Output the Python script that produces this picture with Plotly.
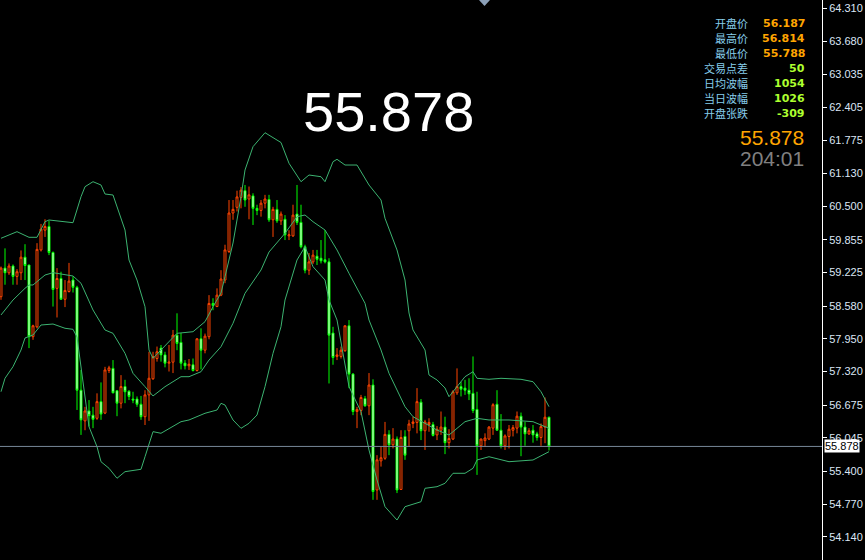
import plotly.graph_objects as go

# ---------------- data ----------------
opens = [58.76, 59.31, 59.22, 59.35, 59.15, 59.22, 59.52, 59.37, 57.99, 58.18,
         59.66, 60.04, 60.11, 59.61, 58.92, 59.11, 58.71, 58.86, 59.08, 58.94,
         56.96, 56.37, 56.56, 56.48, 56.42, 56.74, 56.52, 57.34, 57.38, 56.95,
         56.71, 57.03, 56.94, 56.79, 56.79, 56.69, 56.45, 56.87, 57.18, 57.57,
         57.77, 57.64, 57.48, 57.50, 58.02, 57.88, 57.48, 57.43, 57.45, 57.34,
         57.95, 57.73, 57.99, 58.63, 58.57, 58.79, 59.08, 59.63, 60.37, 60.48,
         60.67, 60.80, 60.64, 60.70, 60.46, 60.42, 60.56, 60.63, 60.24, 60.44,
         60.22, 60.25, 59.93, 59.93, 60.35, 60.19, 59.72, 59.27, 59.43, 59.54,
         59.50, 59.47, 59.43, 58.06, 57.61, 57.61, 57.72, 58.20, 57.27, 56.55,
         56.57, 56.80, 56.66, 57.06, 55.04, 55.60, 55.65, 56.11, 55.91, 56.02,
         55.05, 56.07, 56.18, 56.32, 56.34, 56.73, 56.18, 56.30, 56.30, 56.10,
         56.19, 56.25, 55.95, 56.02, 56.91, 57.03, 57.00, 56.96, 56.90, 56.59,
         55.89, 55.99, 56.02, 56.23, 56.69, 56.19, 55.89, 56.07, 56.19, 56.23,
         56.46, 56.25, 56.12, 56.19, 56.12, 56.05, 56.25, 56.44]
highs = [59.34, 59.69, 59.40, 59.38, 59.29, 59.65, 59.77, 59.37, 58.22, 59.79,
         60.16, 60.25, 60.22, 59.63, 59.31, 59.24, 59.08, 59.41, 59.15, 58.97,
         57.35, 56.64, 56.77, 56.64, 56.90, 57.11, 57.41, 57.43, 57.54, 56.96,
         57.25, 57.16, 56.96, 56.93, 56.84, 56.85, 56.96, 57.70, 57.70, 57.80,
         57.83, 57.70, 57.83, 58.12, 58.44, 58.06, 57.54, 57.56, 57.57, 57.96,
         58.15, 58.05, 58.79, 58.73, 58.92, 59.27, 59.76, 60.62, 60.62, 60.80,
         60.87, 60.91, 60.88, 60.75, 60.53, 60.62, 60.72, 60.72, 60.49, 60.62,
         60.40, 60.33, 60.04, 60.53, 60.91, 60.53, 59.76, 59.60, 59.66, 59.66,
         59.85, 60.04, 59.50, 58.18, 57.77, 57.80, 58.20, 58.31, 57.29, 56.64,
         56.87, 56.85, 57.29, 57.17, 55.71, 55.87, 56.35, 56.19, 56.23, 56.07,
         56.19, 56.19, 56.39, 56.45, 57.00, 56.79, 56.39, 56.42, 56.35, 56.27,
         56.55, 56.45, 56.21, 56.96, 57.38, 57.12, 57.16, 57.19, 57.61, 56.93,
         56.03, 56.13, 56.27, 56.71, 56.96, 56.50, 56.11, 56.29, 56.29, 56.55,
         56.53, 56.35, 56.23, 56.29, 56.16, 56.32, 56.82, 56.45]
lows = [58.70, 58.99, 59.18, 58.99, 58.99, 59.08, 59.08, 57.77, 57.93, 58.15,
        59.63, 59.91, 59.56, 58.57, 58.36, 58.70, 58.56, 58.84, 58.84, 56.58,
        56.10, 56.19, 56.26, 56.23, 56.39, 56.39, 56.50, 57.29, 56.90, 56.46,
        56.61, 56.71, 56.77, 56.71, 56.64, 56.39, 56.29, 56.37, 57.16, 57.51,
        57.51, 57.40, 57.32, 57.29, 57.73, 57.36, 57.36, 57.35, 57.32, 57.32,
        57.36, 57.67, 57.94, 58.50, 58.56, 58.77, 59.02, 59.60, 60.24, 60.40,
        60.46, 60.49, 60.25, 60.14, 60.33, 60.30, 60.46, 60.20, 59.91, 60.18,
        60.14, 59.85, 59.85, 59.91, 60.14, 59.69, 59.21, 59.18, 59.39, 59.37,
        59.40, 59.40, 57.09, 57.45, 57.54, 57.57, 57.70, 57.00, 56.48, 56.23,
        56.48, 56.64, 56.48, 54.85, 54.85, 55.49, 55.62, 55.71, 55.84, 54.98,
        55.04, 55.62, 55.87, 56.23, 56.13, 56.00, 55.81, 56.16, 56.07, 56.00,
        56.10, 55.73, 55.84, 56.00, 56.87, 56.84, 56.87, 56.77, 56.52, 55.33,
        55.81, 55.87, 56.00, 56.10, 56.19, 55.84, 55.81, 55.84, 56.07, 56.13,
        55.69, 55.89, 56.10, 55.95, 55.99, 55.89, 55.94, 55.80]
closes = [59.31, 59.22, 59.35, 59.15, 59.24, 59.52, 59.36, 57.99, 58.20, 59.67,
          60.06, 60.11, 59.61, 58.90, 59.11, 58.71, 58.88, 59.06, 58.94, 56.96,
          56.39, 56.56, 56.47, 56.40, 56.74, 56.50, 57.35, 57.39, 56.91, 56.71,
          57.03, 56.93, 56.84, 56.77, 56.69, 56.45, 56.87, 57.19, 57.61, 57.70,
          57.64, 57.48, 57.50, 58.02, 57.86, 57.48, 57.43, 57.46, 57.34, 57.95,
          57.73, 58.00, 58.63, 58.59, 58.79, 59.10, 59.66, 60.37, 60.44, 60.68,
          60.81, 60.62, 60.72, 60.46, 60.42, 60.56, 60.64, 60.24, 60.44, 60.22,
          60.35, 59.95, 59.95, 60.33, 60.19, 59.72, 59.27, 59.43, 59.56, 59.48,
          59.45, 59.43, 58.02, 57.59, 57.64, 57.73, 58.20, 57.27, 56.55, 56.59,
          56.82, 56.66, 57.06, 55.01, 55.62, 55.66, 56.11, 55.91, 56.02, 55.04,
          56.05, 55.71, 56.31, 56.35, 56.74, 56.18, 56.35, 56.34, 56.09, 56.21,
          56.25, 55.95, 56.03, 56.93, 57.03, 56.98, 56.96, 56.89, 56.57, 55.89,
          56.02, 56.04, 56.25, 56.68, 56.19, 55.89, 56.08, 56.21, 56.24, 56.46,
          56.25, 56.12, 56.18, 56.10, 56.05, 56.26, 56.44, 55.878]
bar_index = list(range(len(closes)))

# Bollinger band lines (bar index, price)
upper_idx = [0, 4, 7, 9, 11, 12, 18, 20, 21, 23, 25, 26, 28, 29, 31, 32, 34, 36, 37, 38,
             40, 44, 48, 51, 53, 55, 56, 58, 60, 61, 63, 66, 70, 72, 75, 77, 80, 81, 83, 84,
             86, 89, 92, 95, 96, 99, 101, 102, 103, 106, 107, 109, 111, 112, 114, 116, 118, 119,
             122, 125, 130, 133, 135, 137]
upper_val = [59.884, 60.011, 59.903, 59.903, 60.203, 60.236, 60.184, 60.684, 60.877, 60.973,
             60.909, 60.736, 60.717, 60.492, 60.043, 59.466, 59.081, 58.567, 57.734, 57.574,
             57.734, 58.055, 58.086, 58.279, 58.567, 58.831, 59.145, 59.793, 60.684, 61.198,
             61.647, 61.916, 61.727, 61.327, 60.973, 61.102, 61.069, 60.973, 61.358, 61.404,
             61.294, 61.294, 60.909, 60.621, 60.269, 59.659, 59.081, 58.446, 58.119, 57.734,
             57.253, 57.157, 57.003, 56.835, 57.028, 57.220, 57.316, 57.189, 57.170, 57.189,
             57.170, 57.124, 56.931, 56.643]
mid_idx = [0, 3, 6, 7, 8, 11, 13, 16, 18, 20, 23, 26, 28, 31, 33, 36, 38, 41, 45, 47,
           50, 52, 55, 58, 61, 65, 67, 71, 74, 76, 78, 81, 84, 87, 91, 92, 95, 97, 101, 103,
           106, 109, 112, 114, 116, 119, 122, 127, 133, 137]
mid_val = [58.408, 58.696, 58.921, 58.985, 58.985, 59.177, 59.222, 59.177, 59.158, 59.018,
           58.504, 58.119, 58.055, 57.670, 57.285, 57.028, 56.849, 57.028, 57.220, 57.220,
           57.316, 57.541, 57.797, 58.248, 58.825, 59.274, 59.620, 59.980, 60.299, 60.332,
           60.203, 60.043, 59.659, 59.210, 58.633, 58.311, 57.734, 57.285, 56.643, 56.450,
           56.323, 56.194, 56.098, 56.227, 56.354, 56.419, 56.387, 56.387, 56.354, 56.227]
lower_idx = [0, 1, 3, 5, 6, 8, 10, 13, 16, 18, 19, 21, 22, 24, 25, 27, 29, 31, 35, 36,
             38, 40, 45, 47, 51, 54, 55, 56, 58, 60, 62, 64, 66, 68, 70, 71, 74, 76, 78, 81,
             82, 84, 87, 90, 92, 94, 96, 99, 101, 105, 106, 109, 111, 113, 116, 118, 119, 122,
             127, 133, 137]
lower_val = [56.931, 57.189, 57.413, 57.734, 57.965, 58.023, 58.215, 58.234, 58.152, 58.132,
             57.984, 56.835, 56.258, 55.873, 55.584, 55.457, 55.265, 55.392, 55.438, 55.680,
             56.162, 56.131, 56.354, 56.387, 56.516, 56.579, 56.708, 56.675, 56.387, 56.227,
             56.323, 56.483, 57.028, 57.670, 58.182, 58.696, 59.466, 59.722, 59.337, 59.081,
             58.696, 58.311, 57.028, 56.546, 55.809, 55.232, 54.718, 54.462, 54.718, 54.814,
             55.072, 55.103, 55.168, 55.361, 55.361, 55.457, 55.617, 55.680, 55.584, 55.617,
             55.777]

tick_vals = [64.310, 63.680, 63.035, 62.405, 61.775, 61.130, 60.500, 59.855, 59.225,
             58.580, 57.950, 57.320, 56.675, 56.045, 55.400, 54.770, 54.140]
tick_text = ["%.3f" % v for v in tick_vals]

last_price = 55.878
big_price_text = "55.878"
countdown_text = "204:01"
info_labels = ["开盘价", "最高价", "最低价", "交易点差", "日均波幅", "当日波幅", "开盘张跌"]
info_values = ["56.187", "56.814", "55.788", "50", "1054", "1026", "-309"]
info_colors = ["#FFA500", "#FFA500", "#FFA500", "#ADFF2F", "#ADFF2F", "#ADFF2F", "#ADFF2F"]

# ---------------- figure ----------------
W, H = 865, 560
PLOT_W = 822
fig = go.Figure()

band_color = "#3CB371"
for xs, ys in [(upper_idx, upper_val), (mid_idx, mid_val), (lower_idx, lower_val)]:
    fig.add_trace(go.Scatter(x=xs, y=ys, mode="lines",
                             line=dict(color=band_color, width=1),
                             hoverinfo="skip", showlegend=False))

fig.add_trace(go.Candlestick(
    x=bar_index, open=opens, high=highs, low=lows, close=closes,
    increasing=dict(line=dict(color="#FF4500", width=1), fillcolor="#000000"),
    decreasing=dict(line=dict(color="#00FF00", width=1), fillcolor="#FFFFFF"),
    showlegend=False, whiskerwidth=0))

# last-price horizontal line
fig.add_hline(y=last_price, line=dict(color="#778899", width=1))

ymax = 64.470
ymin = ymax - H * 0.019246
xmin = -0.25
xmax = xmin + PLOT_W / 4.0

fig.update_layout(
    width=W, height=H,
    margin=dict(l=0, r=W - PLOT_W, t=0, b=0, autoexpand=False),
    paper_bgcolor="#000000", plot_bgcolor="#000000",
    showlegend=False,
    xaxis=dict(range=[xmin, xmax], visible=False, rangeslider=dict(visible=False),
               showgrid=False, zeroline=False, fixedrange=True),
    yaxis=dict(range=[ymin, ymax], side="right", tickvals=tick_vals, ticktext=tick_text,
               showgrid=False, zeroline=False, showline=True, linecolor="#FFFFFF", linewidth=1,
               ticks="outside", ticklen=4, tickcolor="#FFFFFF", tickwidth=1,
               tickfont=dict(family="Liberation Sans", size=11, color="#DCE6F5"),
               automargin=False, mirror=False),
    font=dict(family="Liberation Sans"),
)

# price label box on axis
fig.add_annotation(xref="paper", yref="y", x=1.0, y=last_price, xanchor="left", yanchor="middle",
                   text=big_price_text, showarrow=False, bgcolor="#FFFFFF", borderpad=0,
                   xshift=2, font=dict(family="Liberation Sans", size=11, color="#000000"))

# big price in centre
fig.add_annotation(xref="paper", yref="paper", x=388 / PLOT_W, y=1 - 112 / H,
                   text=big_price_text, showarrow=False, xanchor="center", yanchor="middle",
                   font=dict(family="Liberation Sans", size=56, color="#FFFFFF"))

# info panel
row_y0, row_dy = 23.3, 15.0
for k, (lab, val, col) in enumerate(zip(info_labels, info_values, info_colors)):
    yy = 1 - (row_y0 + k * row_dy) / H
    fig.add_annotation(xref="paper", yref="paper", x=749 / PLOT_W, y=yy, text=lab,
                       showarrow=False, xanchor="right", yanchor="middle", borderpad=0,
                       font=dict(family="Noto Sans CJK SC", size=11, color="#87CEEB"))
    fig.add_annotation(xref="paper", yref="paper", x=806 / PLOT_W, y=yy, text="<b>%s</b>" % val,
                       showarrow=False, xanchor="right", yanchor="middle", borderpad=0,
                       font=dict(family="DejaVu Sans", size=11, color=col))

fig.add_annotation(xref="paper", yref="paper", x=806 / PLOT_W, y=1 - 137 / H, text=big_price_text,
                   showarrow=False, xanchor="right", yanchor="middle",
                   font=dict(family="Liberation Sans", size=21, color="#FFA500"))
fig.add_annotation(xref="paper", yref="paper", x=806 / PLOT_W, y=1 - 158 / H, text=countdown_text,
                   showarrow=False, xanchor="right", yanchor="middle",
                   font=dict(family="Liberation Sans", size=21, color="#808080"))

# small marker triangle at the top
tx0, tx1, txm, ty = 479 / PLOT_W, 490 / PLOT_W, 484.5 / PLOT_W, 1 - 6 / H
fig.add_shape(type="path", xref="paper", yref="paper",
              path="M %f,1 L %f,1 L %f,%f Z" % (tx0, tx1, txm, ty),
              fillcolor="#8CA0B8", line=dict(width=0))

fig.write_html("out.html", config={"displayModeBar": False, "staticPlot": True},
               post_script="document.body.style.margin='0';document.body.style.padding='0';"
                           "document.body.style.overflow='hidden';")
